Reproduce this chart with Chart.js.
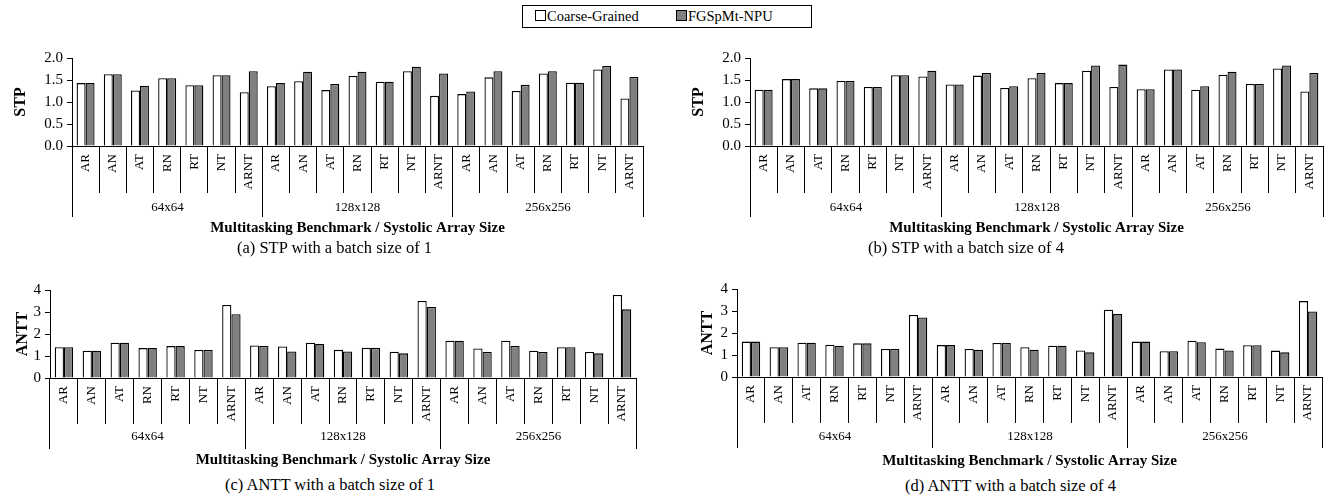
<!DOCTYPE html>
<html>
<head>
<meta charset="utf-8">
<script src="https://cdn.jsdelivr.net/npm/chart.js@4.4.0/dist/chart.umd.min.js"></script>
<style>
  html, body { margin: 0; padding: 0; background: #fff; }
  body { width: 1335px; height: 499px; position: relative; overflow: hidden; font-family: "Liberation Serif", "DejaVu Serif", serif; color: #000; }
  canvas { position: absolute; }
  .cap { position: absolute; font-size: 16.5px; white-space: nowrap; line-height: 1; }
  #legend { position: absolute; left: 522px; top: 5px; width: 290px; height: 23px; border: 1px solid #000; box-sizing: border-box; font-size: 14.5px; }
  .li { position: absolute; top: 2px; white-space: nowrap; line-height: 17px; }
  .sw { display: inline-block; width: 9px; height: 9px; border: 1px solid #000; margin-right: 1px; vertical-align: 0px; }
</style>
</head>
<body>
<div id="legend">
  <span class="li" style="left:12px"><span class="sw" style="background:#fff"></span>Coarse-Grained</span>
  <span class="li" style="left:153px"><span class="sw" style="background:#808080"></span>FGSpMt-NPU</span>
</div>
<canvas id="ca" width="660" height="200" style="left:0px;top:40px"></canvas>
<canvas id="cb" width="655" height="200" style="left:680px;top:40px"></canvas>
<canvas id="cc" width="660" height="200" style="left:0px;top:270px"></canvas>
<canvas id="cd" width="655" height="200" style="left:680px;top:270px"></canvas>
<div class="cap" style="left:237px;top:240px">(a) STP with a batch size of 1</div>
<div class="cap" style="left:868px;top:240px">(b) STP with a batch size of 4</div>
<div class="cap" style="left:225px;top:477px">(c) ANTT with a batch size of 1</div>
<div class="cap" style="left:905px;top:478px">(d) ANTT with a batch size of 4</div>
<script>
// ---- data ----
const BENCHMARKS = ['AR', 'AN', 'AT', 'RN', 'RT', 'NT', 'ARNT'];
const SIZES = ['64x64', '128x128', '256x256'];
const SERIES = ['Coarse-Grained', 'FGSpMt-NPU'];
const X_TITLE = 'Multitasking Benchmark / Systolic Array Size';

const STP_TICKS = [0.0, 0.5, 1.0, 1.5, 2.0];
const ANTT_TICKS = [0, 1, 2, 3, 4];

// (a) STP, batch 1
const stpB1Coarse = [1.43, 1.63, 1.26, 1.54, 1.38, 1.61, 1.22,  1.36, 1.47, 1.27, 1.59, 1.46, 1.70, 1.14,  1.18, 1.56, 1.25, 1.65, 1.44, 1.74, 1.08];
const stpB1Fg     = [1.43, 1.63, 1.37, 1.54, 1.38, 1.61, 1.70,  1.43, 1.69, 1.41, 1.69, 1.46, 1.80, 1.65,  1.24, 1.70, 1.39, 1.70, 1.44, 1.82, 1.57];
// (b) STP, batch 4
const stpB4Coarse = [1.28, 1.52, 1.31, 1.48, 1.34, 1.61, 1.58,  1.40, 1.60, 1.32, 1.54, 1.43, 1.71, 1.34,  1.29, 1.74, 1.28, 1.62, 1.41, 1.76, 1.24];
const stpB4Fg     = [1.28, 1.52, 1.31, 1.48, 1.34, 1.61, 1.71,  1.40, 1.66, 1.36, 1.66, 1.43, 1.83, 1.85,  1.29, 1.74, 1.36, 1.69, 1.41, 1.83, 1.66];
// (c) ANTT, batch 1
const anttB1Coarse = [1.40, 1.24, 1.60, 1.36, 1.45, 1.27, 3.32,  1.48, 1.43, 1.60, 1.28, 1.37, 1.19, 3.50,  1.69, 1.34, 1.69, 1.24, 1.40, 1.18, 3.77];
const anttB1Fg     = [1.40, 1.24, 1.60, 1.36, 1.45, 1.27, 2.90,  1.46, 1.21, 1.54, 1.21, 1.37, 1.12, 3.23,  1.69, 1.18, 1.46, 1.18, 1.40, 1.12, 3.12];
// (d) ANTT, batch 4
const anttB4Coarse = [1.61, 1.35, 1.56, 1.47, 1.53, 1.27, 2.82,  1.45, 1.27, 1.55, 1.35, 1.42, 1.21, 3.06,  1.61, 1.17, 1.65, 1.29, 1.44, 1.20, 3.45];
const anttB4Fg     = [1.61, 1.35, 1.56, 1.42, 1.53, 1.27, 2.71,  1.45, 1.24, 1.55, 1.24, 1.42, 1.12, 2.86,  1.61, 1.17, 1.58, 1.21, 1.44, 1.12, 2.98];

// ---- drawing ----
const FONT = '"Liberation Serif", "DejaVu Serif", serif';
const CATEGORIES = SIZES.flatMap(() => BENCHMARKS);

function alignPx(p) { return Math.round(p - 0.5) + 0.5; }

const groupPlugin = {
  id: 'groupAxis',
  afterDraw(chart, args, opts) {
    const xs = chart.scales.x;
    const ctx = chart.ctx;
    const per = BENCHMARKS.length;
    const n = CATEGORIES.length;
    const top = chart.chartArea.bottom;
    const step = xs.getPixelForTick(1) - xs.getPixelForTick(0);
    ctx.save();
    ctx.strokeStyle = '#000';
    ctx.lineWidth = 1;
    const bounds = [];
    for (let g = 0; g <= SIZES.length; g++) {
      const i = g * per;
      let px;
      if (i === 0) px = xs.getPixelForTick(0) - step / 2;
      else if (i >= n) px = xs.getPixelForTick(n - 1) + step / 2;
      else px = (xs.getPixelForTick(i - 1) + xs.getPixelForTick(i)) / 2;
      px = alignPx(px);
      bounds.push(px);
      ctx.beginPath();
      ctx.moveTo(px, top);
      ctx.lineTo(px, top + opts.lineLen);
      ctx.stroke();
    }
    ctx.fillStyle = '#000';
    ctx.font = opts.fontSize + 'px ' + FONT;
    ctx.textAlign = 'center';
    ctx.textBaseline = 'middle';
    SIZES.forEach((s, g) => {
      ctx.fillText(s, (bounds[g] + bounds[g + 1]) / 2, top + opts.labelOffset);
    });
    ctx.restore();
  }
};

function makeChart(id, coarse, fg, cfg) {
  const ticksArr = cfg.ticks;
  new Chart(document.getElementById(id), {
    type: 'bar',
    data: {
      labels: CATEGORIES,
      datasets: [
        { label: SERIES[0], data: coarse, backgroundColor: '#ffffff', borderColor: '#000000', borderWidth: 1.3 },
        { label: SERIES[1], data: fg, backgroundColor: '#808080', borderColor: '#000000', borderWidth: 1.3 }
      ]
    },
    options: {
      responsive: false,
      animation: false,
      devicePixelRatio: 1,
      layout: { padding: cfg.pad },
      datasets: { bar: { categoryPercentage: 0.66, barPercentage: 1.0 } },
      plugins: {
        legend: { display: false },
        tooltip: { enabled: false },
        groupAxis: { lineLen: cfg.groupLine, labelOffset: cfg.groupLabel, fontSize: 13 }
      },
      scales: {
        x: {
          offset: true,
          grid: { display: true, drawOnChartArea: false, drawTicks: true, tickLength: cfg.tickLen, color: '#000', lineWidth: 1, offset: true },
          border: { display: true, color: '#000', width: 1 },
          ticks: {
            autoSkip: false, minRotation: 90, maxRotation: 90, color: '#000',
            padding: -cfg.tickLen + 8,
            font: { family: FONT, size: 13 }
          },
          title: { display: true, text: X_TITLE, color: '#000', font: { family: FONT, size: 15, weight: 'bold' }, padding: { top: 0, bottom: cfg.titleBottom } },
          afterFit: (s) => { s.height = cfg.xHeight; }
        },
        y: {
          min: ticksArr[0], max: ticksArr[ticksArr.length - 1],
          afterBuildTicks: (s) => { s.ticks = ticksArr.map(v => ({ value: v })); },
          grid: { display: true, drawOnChartArea: false, drawTicks: true, tickLength: 5, color: '#000' },
          border: { display: true, color: '#000', width: 1 },
          ticks: {
            color: '#000', padding: cfg.yPad,
            font: { family: FONT, size: 15 },
            callback: (v) => cfg.decimals ? Number(v).toFixed(1) : String(v)
          },
          title: { display: true, text: cfg.yTitle, color: '#000', font: { family: FONT, size: 16, weight: 'bold' }, padding: { top: cfg.yTitlePad, bottom: 0 } },
          afterFit: (s) => { s.width = cfg.yWidth; }
        }
      }
    },
    plugins: [groupPlugin]
  });
}

makeChart('ca', stpB1Coarse, stpB1Fg, {
  ticks: STP_TICKS, decimals: true, yTitle: 'STP',
  pad: { top: 18, right: 17, bottom: 0, left: 0 }, yWidth: 72, xHeight: 94,
  tickLen: 47, groupLine: 71, groupLabel: 62, titleBottom: 3, yPad: 4, yTitlePad: 11
});
makeChart('cb', stpB4Coarse, stpB4Fg, {
  ticks: STP_TICKS, decimals: true, yTitle: 'STP',
  pad: { top: 18, right: 12, bottom: 0, left: 0 }, yWidth: 70, xHeight: 94,
  tickLen: 47, groupLine: 71, groupLabel: 62, titleBottom: 3, yPad: 4, yTitlePad: 9
});
makeChart('cc', anttB1Coarse, anttB1Fg, {
  ticks: ANTT_TICKS, decimals: false, yTitle: 'ANTT',
  pad: { top: 20, right: 24, bottom: 0, left: 0 }, yWidth: 50, xHeight: 92,
  tickLen: 46, groupLine: 71, groupLabel: 59, titleBottom: 1, yPad: 4, yTitlePad: 13
});
makeChart('cd', anttB4Coarse, anttB4Fg, {
  ticks: ANTT_TICKS, decimals: false, yTitle: 'ANTT',
  pad: { top: 19, right: 13, bottom: 0, left: 0 }, yWidth: 57, xHeight: 93,
  tickLen: 46, groupLine: 71, groupLabel: 60, titleBottom: 0, yPad: 4, yTitlePad: 18
});
</script>
</body>
</html>
